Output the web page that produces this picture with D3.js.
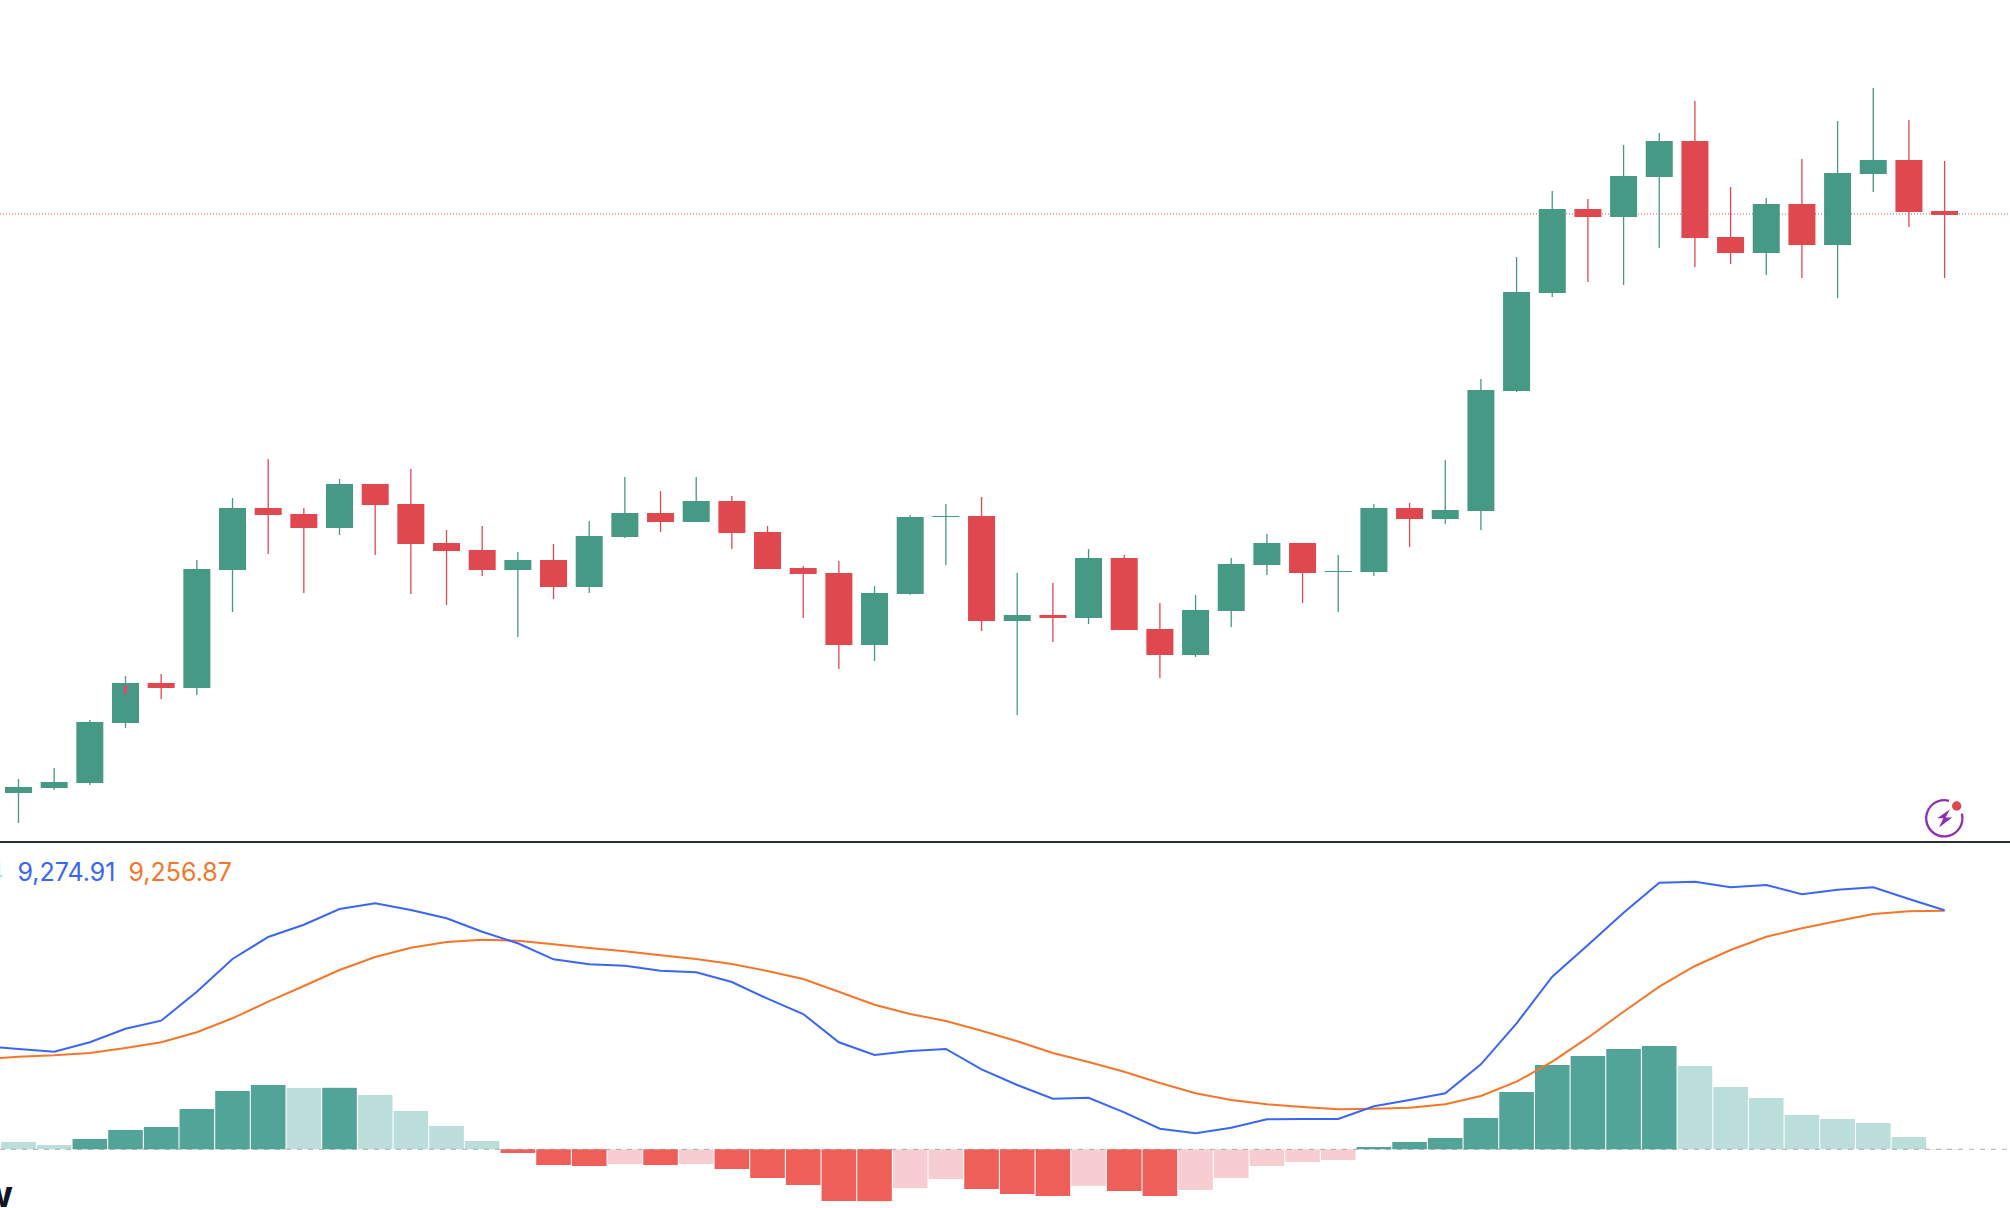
<!DOCTYPE html>
<html>
<head>
<meta charset="utf-8">
<script src="https://d3js.org/d3.v7.min.js"></script>
<style>
  html, body { margin: 0; background: #fff; overflow: hidden; }
  svg { display: block; }
  .legend { font-family: Inter, sans-serif; font-size: 25px; }
  .logo { font-family: Inter, sans-serif; font-size: 37px; font-weight: 700; fill: #131722; }
</style>
</head>
<body>
<script>
// the picture has no price axis, so everything is read off in px above the pane floor / zero line
var opens = [49,54,59,119,159,154,272,334,328,314,358,338,299,292,272,282,255,305,329,320,341,310,274,269,197,248,325,326,221,227,224,284,213,187,231,277,299,270,270,334,323,331,451,549,633,625,665,701,605,589,638,597,668,682,631];
var highs = [63,74,122,166,168,282,344,383,334,363,358,373,312,316,290,298,321,365,351,365,346,316,276,281,256,327,338,345,269,259,293,287,239,247,284,308,299,287,338,339,382,463,585,651,643,697,709,741,655,644,683,721,754,722,681];
var lows = [19,52,57,114,143,147,230,288,249,307,287,248,237,266,205,243,249,304,310,320,293,273,224,173,181,247,277,211,127,200,218,212,164,185,215,267,239,230,266,295,318,312,450,545,560,557,594,575,578,567,564,544,650,615,564];
var closes = [55,60,120,159,154,273,334,327,314,358,337,298,291,272,282,255,306,329,320,341,309,273,268,197,249,325,326,221,227,224,284,212,187,232,278,299,269,271,334,323,332,452,550,633,625,666,701,604,589,638,597,669,682,630,627];
var lastPrice = 628;
// small pink tick sitting on the fourth candle: bar, top, bottom
var tick = [3, 157, 148];

var hist = [7.3,4.3,10.3,19.3,22.3,40.3,58.3,64.3,61.3,61.5,54.3,38.3,23.3,8.3,-3.7,-15.7,-16.7,-14.7,-15.7,-14.7,-19.7,-28.7,-35.7,-51.7,-51.8,-38.7,-29.7,-39.7,-44.7,-46.7,-36.7,-41.7,-46.7,-40.7,-28.7,-16.7,-12.7,-10.7,2.3,7.3,11.3,31.3,57.3,84.3,93.3,100.3,103.3,83.3,62.3,51.3,34.3,30.3,26.3,12.3,0.3];
// these two start one bar before the first candle, the line runs in from off screen
var macdLine = [103,100.3,97.6,107,120.6,128.6,157.6,190.3,212.3,224.6,240.3,246,239.3,231,217.6,206,190,185,183.6,178.6,177,167.3,150.6,135.3,107,94.3,98.3,100.3,80,64.3,50.6,51.6,37,20.6,16,21.6,30,30.3,30.3,43,49.3,56,85,126,172.6,204.3,236.6,266.6,267.6,262,264.3,255,259.6,262,250.3,239];
var signalLine = [90,92.6,94,96.3,101.3,107,117,131,147.6,163.3,179.3,192.3,201.6,207.3,209.6,208.6,205,201.3,198,194,190.3,185.3,178.3,170.3,157.6,144.6,135.3,128.3,118.6,108,96.3,87.3,77.6,66.3,56,49.3,45,42.3,40,40.6,41.6,45,53.3,67.6,87.6,111.6,137.6,162.6,183.3,199.3,212.6,221,228.3,235.3,238,238.6];
var legendLabels = ["18.04", "9,274.91", "9,256.87"];

var width = 2010, height = 1208;
var up = "#459985", down = "#e0484f";

var svg = d3.select("body").append("svg")
    .attr("width", width)
    .attr("height", height);

svg.append("rect").attr("width", width).attr("height", height).attr("fill", "#fff");

var x = d3.scaleLinear().domain([0, 54]).range([18.5, 1944.6]);
var y = d3.scaleLinear().domain([0, 842]).range([842, 0]);
var yMacd = d3.scaleLinear().domain([-60, 260]).range([1209.3, 889.3]);

var bodyWidth = 27, barWidth = 34.6;

var candles = opens.map(function(o, i) {
    return {i: i, open: o, high: highs[i], low: lows[i], close: closes[i]};
});

function candleColor(d) { return d.close >= d.open ? up : down; }

// last price line
svg.append("line")
    .attr("x1", 0).attr("x2", width)
    .attr("y1", y(lastPrice)).attr("y2", y(lastPrice))
    .attr("stroke", down)
    .attr("stroke-width", 1)
    .attr("stroke-dasharray", "1 2");

// candles
var c = svg.append("g").selectAll("g").data(candles).enter().append("g");

c.append("line")
    .attr("x1", function(d) { return x(d.i); })
    .attr("x2", function(d) { return x(d.i); })
    .attr("y1", function(d) { return y(d.high); })
    .attr("y2", function(d) { return y(d.low); })
    .attr("stroke", candleColor)
    .attr("stroke-width", 1.3);

c.append("rect")
    .attr("x", function(d) { return x(d.i) - bodyWidth / 2; })
    .attr("y", function(d) { return y(Math.max(d.open, d.close)); })
    .attr("width", bodyWidth)
    .attr("height", function(d) { return Math.max(1, Math.abs(y(d.open) - y(d.close))); })
    .attr("fill", candleColor);

svg.append("line")
    .attr("x1", x(tick[0])).attr("x2", x(tick[0]))
    .attr("y1", y(tick[1])).attr("y2", y(tick[2]))
    .attr("stroke", "#e0486f")
    .attr("stroke-width", 3);

// pane separator
svg.append("line")
    .attr("x1", 0).attr("x2", width)
    .attr("y1", 842).attr("y2", 842)
    .attr("stroke", "#2a2e39")
    .attr("stroke-width", 2);

// histogram
function histColor(v, i) {
    var rising = i > 0 && v > hist[i - 1];
    if (v >= 0) return rising ? "#52a398" : "#bbdeda";
    return rising ? "#f7cdd2" : "#ee5f5a";
}

svg.append("g").selectAll("rect").data(hist).enter().append("rect")
    .attr("x", function(d, i) { return x(i) - barWidth / 2; })
    .attr("y", function(d) { return yMacd(Math.max(0, d)); })
    .attr("width", barWidth)
    .attr("height", function(d) { return Math.abs(yMacd(d) - yMacd(0)); })
    .attr("fill", histColor);

svg.append("line")
    .attr("x1", 0).attr("x2", width)
    .attr("y1", yMacd(0)).attr("y2", yMacd(0))
    .attr("stroke", "#787b86")
    .attr("stroke-opacity", 0.6)
    .attr("stroke-width", 1)
    .attr("stroke-dasharray", "5 6");

// macd + signal
var line = d3.line()
    .x(function(d, i) { return x(i - 1); })
    .y(function(d) { return yMacd(d); });

svg.append("path").datum(signalLine)
    .attr("d", line)
    .attr("fill", "none")
    .attr("stroke", "#f5762a")
    .attr("stroke-width", 2);

svg.append("path").datum(macdLine)
    .attr("d", line)
    .attr("fill", "none")
    .attr("stroke", "#3a66f5")
    .attr("stroke-width", 2);

// legend, the histogram value is cut off by the left edge
svg.append("text").attr("class", "legend")
    .attr("x", 4).attr("y", 881)
    .attr("text-anchor", "end")
    .attr("fill", "#bbdeda")
    .text(legendLabels[0]);

svg.append("text").attr("class", "legend")
    .attr("x", 17.5).attr("y", 881)
    .attr("fill", "#3a66f5")
    .text(legendLabels[1]);

svg.append("text").attr("class", "legend")
    .attr("x", 128.5).attr("y", 881)
    .attr("fill", "#f5762a")
    .text(legendLabels[2]);

svg.append("text").attr("class", "logo")
    .attr("x", 13).attr("y", 1207)
    .attr("text-anchor", "end")
    .text("TradingView");

// flash icon
var icon = svg.append("g").attr("transform", "translate(1944.3,818.3)");

icon.append("path")
    .attr("d", d3.arc()
        .innerRadius(17)
        .outerRadius(19.3)
        .startAngle(75 * Math.PI / 180)
        .endAngle(375 * Math.PI / 180)())
    .attr("fill", "#8e2fb0");

icon.append("path")
    .attr("d", "M5.7,-9L-7,0L-1,0L-5.3,9.3L8,-0.7L1.3,-0.7Z")
    .attr("fill", "#8e2fb0");

icon.append("circle")
    .attr("cx", 12.4).attr("cy", -12.3).attr("r", 4.7)
    .attr("fill", "#e0484f");
</script>
</body>
</html>
